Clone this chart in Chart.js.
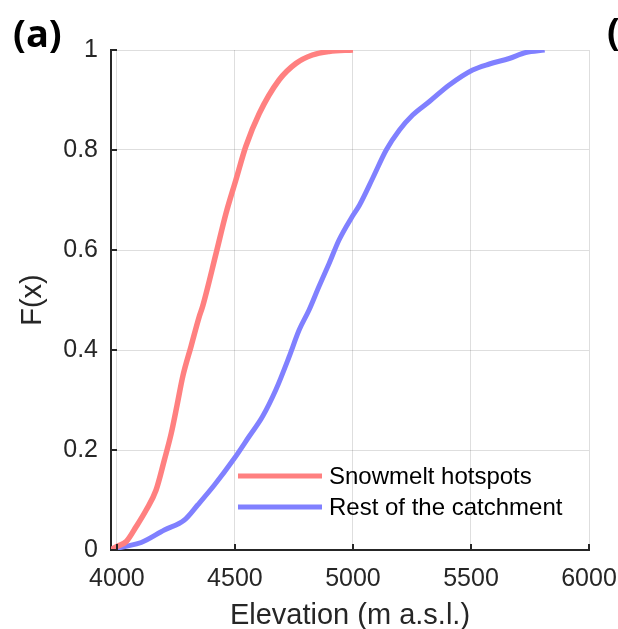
<!DOCTYPE html>
<html>
<head>
<meta charset="utf-8">
<script src="https://cdn.jsdelivr.net/npm/chart.js@4"></script>
<style>
  html, body { margin: 0; padding: 0; background: #fff; }
  #wrap { position: relative; width: 618px; height: 629px; }
</style>
</head>
<body>
<div id="wrap"><canvas id="cdf-chart" width="618" height="629"></canvas></div>
<script>
// elevation (m a.s.l.) and cumulative fraction for each group
const hotspotElev = [3972, 4000, 4040, 4082, 4124, 4166, 4201, 4230, 4255, 4279, 4314, 4349, 4363, 4420, 4462, 4504, 4546, 4603, 4687, 4758, 4828, 4899, 5000];
const hotspotF    = [0, 0.007, 0.017, 0.047, 0.08, 0.12, 0.18, 0.233, 0.29, 0.347, 0.407, 0.467, 0.487, 0.593, 0.673, 0.74, 0.807, 0.873, 0.94, 0.973, 0.99, 0.997, 1.0];

const restElev = [3972, 4033, 4103, 4201, 4286, 4342, 4413, 4497, 4560, 4617, 4673, 4730, 4772, 4814, 4856, 4899, 4941, 4997, 5028, 5085, 5141, 5197, 5253, 5324, 5408, 5507, 5578, 5662, 5732, 5812];
const restF    = [0, 0.007, 0.015, 0.04, 0.06, 0.09, 0.13, 0.183, 0.227, 0.267, 0.32, 0.387, 0.44, 0.48, 0.527, 0.573, 0.62, 0.667, 0.69, 0.745, 0.80, 0.84, 0.87, 0.897, 0.93, 0.96, 0.972, 0.983, 0.995, 1.0];

const xTicks = [4000, 4500, 5000, 5500, 6000];
const yTicks = [0, 0.2, 0.4, 0.6, 0.8, 1];

const seriesNames = ['Snowmelt hotspots', 'Rest of the catchment'];
const seriesColors = ['rgb(255,128,128)', 'rgb(128,128,255)'];

function toPoints(xs, ys) {
    return xs.map((x, i) => ({ x: x, y: ys[i] }));
}

const FONT = 'Liberation Sans, Arial, sans-serif';

// small tick marks pointing into the plot, legend and panel letters
const decorPlugin = {
    id: 'decor',
    afterDraw(chart) {
        const ctx = chart.ctx;
        const area = chart.chartArea;
        const xs = chart.scales.x, ys = chart.scales.y;
        ctx.save();
        ctx.strokeStyle = '#262626';
        ctx.lineWidth = 2;
        xTicks.forEach(v => {
            const px = Math.round(xs.getPixelForValue(v));
            ctx.beginPath();
            ctx.moveTo(px, area.bottom);
            ctx.lineTo(px, area.bottom - 6);
            ctx.stroke();
        });
        yTicks.forEach(v => {
            const py = Math.round(ys.getPixelForValue(v));
            ctx.beginPath();
            ctx.moveTo(area.left, py);
            ctx.lineTo(area.left + 6, py);
            ctx.stroke();
        });

        // legend inside the axes, no box
        ctx.lineWidth = 5;
        ctx.font = '24px ' + FONT;
        ctx.textBaseline = 'middle';
        ctx.fillStyle = '#000';
        const rows = [476, 507];
        chart.data.datasets.forEach((ds, i) => {
            ctx.strokeStyle = ds.borderColor;
            ctx.beginPath();
            ctx.moveTo(238, rows[i]);
            ctx.lineTo(322, rows[i]);
            ctx.stroke();
            ctx.fillText(ds.label, 329, rows[i] + 1);
        });

        ctx.font = 'bold 38px "Open Sans", sans-serif';
        ctx.textBaseline = 'alphabetic';
        ctx.fillText('(a)', 13, 47);
        ctx.fillText('(b)', 607, 45);
        ctx.restore();
    }
};

const chart = new Chart(document.getElementById('cdf-chart').getContext('2d'), {
    type: 'line',
    data: {
        datasets: [{
            label: seriesNames[0],
            data: toPoints(hotspotElev, hotspotF),
            borderColor: seriesColors[0],
            borderWidth: 5.5,
            pointRadius: 0,
            cubicInterpolationMode: 'monotone',
            fill: false
        }, {
            label: seriesNames[1],
            data: toPoints(restElev, restF),
            borderColor: seriesColors[1],
            borderWidth: 5,
            pointRadius: 0,
            cubicInterpolationMode: 'monotone',
            fill: false
        }]
    },
    options: {
        responsive: false,
        animation: false,
        layout: { padding: { top: 50, right: 29, left: 0, bottom: 0 } },
        plugins: { legend: { display: false }, tooltip: { enabled: false } },
        scales: {
            x: {
                type: 'linear',
                min: 3975,
                max: 6000,
                afterBuildTicks: s => { s.ticks = xTicks.map(v => ({ value: v })); },
                afterFit: s => { s.height = 79; s.paddingLeft = 0; s.paddingRight = 0; },
                grid: { color: 'rgba(0,0,0,0.13)', lineWidth: 1, drawTicks: false },
                border: { color: '#262626', width: 2 },
                ticks: {
                    padding: 14,
                    color: '#262626',
                    font: { family: FONT, size: 25 },
                    callback: v => String(v)
                },
                title: {
                    display: true,
                    text: 'Elevation (m a.s.l.)',
                    color: '#262626',
                    font: { family: FONT, size: 29, lineHeight: 1 },
                    padding: { top: 0, bottom: -1 }
                }
            },
            y: {
                min: 0,
                max: 1,
                afterBuildTicks: s => { s.ticks = yTicks.map(v => ({ value: v })); },
                afterFit: s => { s.width = 111; s.paddingTop = 0; s.paddingBottom = 0; },
                grid: { color: 'rgba(0,0,0,0.13)', lineWidth: 1, drawTicks: false },
                border: { color: '#262626', width: 2 },
                ticks: {
                    padding: 13,
                    color: '#262626',
                    font: { family: FONT, size: 25 },
                    callback: v => String(v)
                },
                title: {
                    display: true,
                    text: 'F(x)',
                    color: '#262626',
                    font: { family: FONT, size: 29, lineHeight: 1.2 },
                    padding: { top: 16, bottom: 0 }
                }
            }
        }
    },
    plugins: [decorPlugin]
});
</script>
</body>
</html>
